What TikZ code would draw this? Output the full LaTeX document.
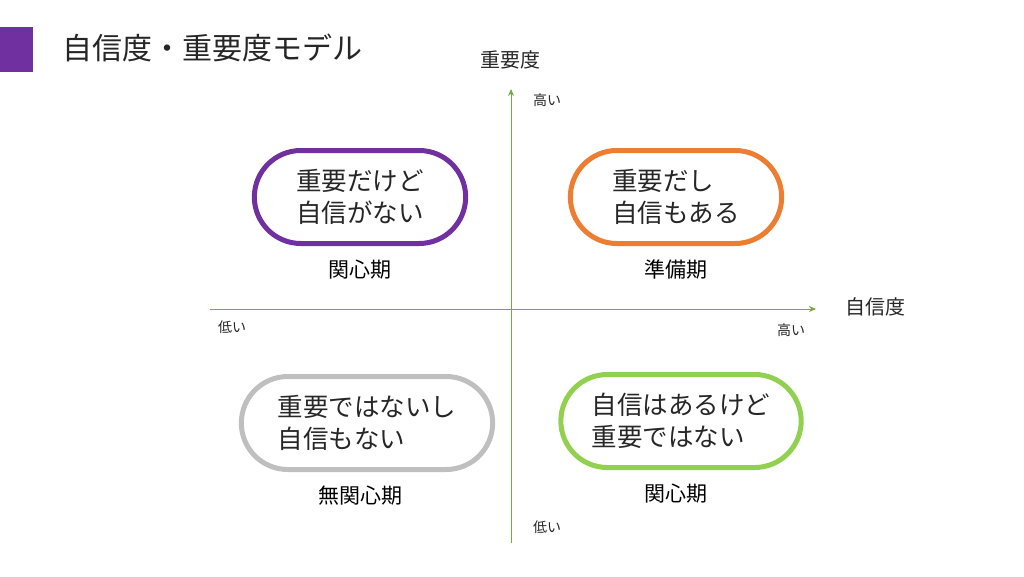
\documentclass[tikz,border=0pt]{standalone}
\usepackage{fontspec}
\setmainfont{Noto Sans CJK JP}
\usetikzlibrary{positioning,arrows.meta,shapes.misc}

\definecolor{modelpurple}{HTML}{7030A0}
\definecolor{modelorange}{HTML}{ED7D31}
\definecolor{modelgray}{HTML}{BFBFBF}
\definecolor{modelgreen}{HTML}{92D050}
\definecolor{axisgreen}{HTML}{70AD47}
\definecolor{textdark}{HTML}{262626}

\begin{document}
\begin{tikzpicture}[x=1pt,y=-1pt,
	pill/.style={rounded rectangle, draw, line width=5pt, minimum height=93pt, align=left, text=textdark, font=\fontsize{25.5}{32}\selectfont},
	stage/.style={inner sep=0pt, text=black, font=\fontsize{21}{24}\selectfont},
	axislabel/.style={inner sep=0pt, text=textdark, font=\fontsize{20}{24}\selectfont},
	ticklabel/.style={inner sep=0pt, text=textdark, font=\fontsize{14}{16}\selectfont}]
					\useasboundingbox (0,0) rectangle (1024,576);
					
					% Draw title with purple mark
					\fill[modelpurple] (0,27) rectangle (33,72);
					\node[anchor=west, inner sep=0pt, text=textdark, font=\fontsize{30}{34}\selectfont] (title) at (62,48) {自信度・重要度モデル};
					
					% Draw x and y axis with respective labels
					\coordinate (x start) at (210,309);
					\coordinate (x end) at (816,309);
					\coordinate (y start) at (511,543);
					\coordinate (y end) at (511,89);
					\draw[axisgreen, line width=0.8pt, -{Stealth[length=7pt,width=6pt]}] (x start) -- (x end);
					\draw[axisgreen, line width=0.8pt, -{Stealth[length=7pt,width=6pt]}] (y start) -- (y end);
					\node[axislabel] (x label) at (875,307) {自信度};
					\node[axislabel] (y label) at (510,60) {重要度};
					
					% Draw high and low marks on the axes
					\node[ticklabel] (x high) at (791,330) {高い};
					\node[ticklabel] (x low) at (232,327) {低い};
					\node[ticklabel] (y high) at (547,100) {高い};
					\node[ticklabel] (y low) at (547,527) {低い};
					
					% Draw the four quadrants
					\node[pill, draw=modelpurple, minimum width=218pt] (important) at (360,197) {重要だけど\\自信がない};
					\node[pill, draw=modelorange, minimum width=218pt] (ready) at (676,197) {重要だし\\自信もある};
					\node[pill, draw=modelgray, minimum width=258pt] (neither) at (367,423) {重要ではないし\\自信もない};
					\node[pill, draw=modelgreen, minimum width=247pt] (confident) at (681,421) {自信はあるけど\\重要ではない};
					
					% Draw stage names below the quadrants
					\node[stage, below=14pt of important] (important stage) {関心期};
					\node[stage, below=14pt of ready] (ready stage) {準備期};
					\node[stage, below=14pt of neither, xshift=-7pt] (neither stage) {無関心期};
					\node[stage, below=14pt of confident, xshift=-5pt] (confident stage) {関心期};
\end{tikzpicture}
\end{document}
